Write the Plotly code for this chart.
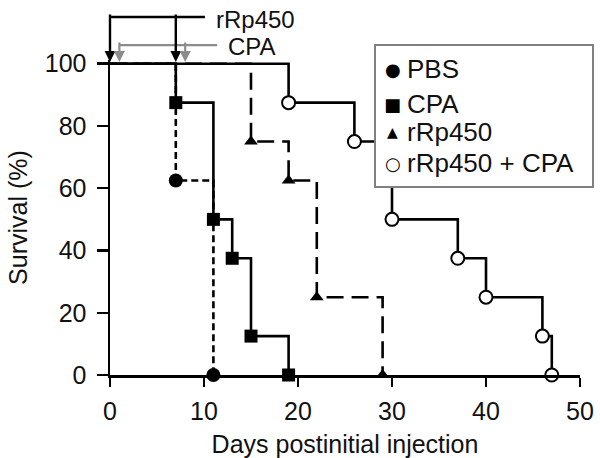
import plotly.graph_objects as go

# ---- data ----
days_pbs = [0, 7, 11]
surv_pbs = [100, 62.5, 0]
days_cpa = [0, 7, 11, 13, 15, 19]
surv_cpa = [100, 87.5, 50, 37.5, 12.5, 0]
days_rrp = [0, 15, 19, 22, 29]
surv_rrp = [100, 75, 62.5, 25, 0]
days_combo = [0, 19, 26, 30, 37, 40, 46, 47]
surv_combo = [100, 87.5, 75, 50, 37.5, 25, 12.5, 0]

rrp_injection_days = [0, 7]
cpa_injection_days = [1, 8]

x_ticks = [0, 10, 20, 30, 40, 50]
y_ticks = [0, 20, 40, 60, 80, 100]
legend_labels = ["PBS", "CPA", "rRp450", "rRp450 + CPA"]
legend_glyphs = ["●", "■", "▲", "○"]

FONT = "Liberation Sans, Arial, sans-serif"
LW = 2.6

series = [
    dict(x=days_pbs, y=surv_pbs, dash="7px,4px", sym="circle", size=14, fill="black", lw=0),
    dict(x=days_cpa, y=surv_cpa, dash="solid", sym="square", size=13, fill="black", lw=0),
    dict(x=days_rrp, y=surv_rrp, dash="17px,8px", sym="triangle-up", size=12, fill="black", lw=0),
    dict(x=days_combo, y=surv_combo, dash="solid", sym="circle", size=13, fill="white", lw=2),
]

fig = go.Figure()
for s in series:
    fig.add_trace(go.Scatter(x=s["x"], y=s["y"], mode="lines",
                             line=dict(color="black", width=LW, dash=s["dash"], shape="hv"),
                             hoverinfo="skip"))
for s, name in zip(series, legend_labels):
    fig.add_trace(go.Scatter(x=s["x"][1:], y=s["y"][1:], mode="markers", name=name,
                             marker=dict(symbol=s["sym"], size=s["size"], color=s["fill"],
                                         line=dict(color="black", width=s["lw"])),
                             cliponaxis=False))

annotations = []
shapes = []

# injection arrows
for d in rrp_injection_days:
    annotations.append(dict(x=d, y=0.994, xref="x", yref="paper", ax=0, ay=-49,
                            axref="pixel", ayref="pixel", text="", showarrow=True,
                            arrowhead=2, arrowsize=0.9, arrowwidth=2.4, arrowcolor="black"))
for d in cpa_injection_days:
    annotations.append(dict(x=d, y=0.994, xref="x", yref="paper", ax=0, ay=-21,
                            axref="pixel", ayref="pixel", text="", showarrow=True,
                            arrowhead=2, arrowsize=1.0, arrowwidth=2.2, arrowcolor="#8c8c8c"))
shapes.append(dict(type="line", xref="x", yref="paper", x0=rrp_injection_days[0], x1=10.1,
                   y0=1.1365, y1=1.1365, line=dict(color="black", width=2.4)))
shapes.append(dict(type="line", xref="x", yref="paper", x0=cpa_injection_days[0], x1=11.4,
                   y0=1.0475, y1=1.0475, line=dict(color="#8c8c8c", width=2.2)))
annotations.append(dict(x=11.2, y=1.13, xref="x", yref="paper", text="rRp450", showarrow=False,
                        xanchor="left", yanchor="middle", borderpad=0,
                        font=dict(family=FONT, size=24, color="#111")))
annotations.append(dict(x=12.45, y=1.044, xref="x", yref="paper", text="CPA", showarrow=False,
                        xanchor="left", yanchor="middle", borderpad=0,
                        font=dict(family=FONT, size=24, color="#111")))

# legend box
shapes.append(dict(type="rect", xref="paper", yref="paper", x0=0.5638, x1=1.0277,
                   y0=0.5968, y1=1.0476, fillcolor="white", layer="above",
                   line=dict(color="#808080", width=2)))
leg_y = [0.9714, 0.8603, 0.7714, 0.673]
glyph_sizes = [18, 18, 14, 18]
for lab, g, yy, gs in zip(legend_labels, legend_glyphs, leg_y, glyph_sizes):
    annotations.append(dict(x=0.602, y=yy, xref="paper", yref="paper", text=g, showarrow=False,
                            xanchor="center", yanchor="middle",
                            font=dict(family="DejaVu Sans", size=gs, color="black")))
    annotations.append(dict(x=0.6277, y=yy, xref="paper", yref="paper", text=lab, showarrow=False,
                            xanchor="left", yanchor="middle",
                            font=dict(family=FONT, size=26, color="#111")))

axis_common = dict(showline=True, linewidth=2.5, linecolor="black", ticks="outside",
                   tickwidth=2.5, tickcolor="black", showgrid=False, zeroline=False,
                   automargin=False,
                   tickfont=dict(family=FONT, size=25, color="#111"))

fig.update_layout(
    width=600, height=458,
    margin=dict(l=110, r=20, t=60, b=83),
    paper_bgcolor="white", plot_bgcolor="white",
    showlegend=False,
    xaxis=dict(range=[0, 50], tickvals=x_ticks, ticklen=9, ticklabelstandoff=3,
               title=dict(text="Days postinitial injection", standoff=12,
                          font=dict(family=FONT, size=25, color="#111")),
               **axis_common),
    yaxis=dict(range=[0, 101.2], tickvals=y_ticks, ticklen=11, ticklabelstandoff=5,
               title=dict(text="Survival (%)", standoff=10,
                          font=dict(family=FONT, size=25, color="#111")),
               **axis_common),
    annotations=annotations,
    shapes=shapes,
)

# remove the page's default 8px body margin so the 600x458 figure fills the window
fig.write_html("out.html",
               config={"displayModeBar": False, "staticPlot": True},
               post_script="document.body.style.margin='0';document.body.style.overflow='hidden';")
